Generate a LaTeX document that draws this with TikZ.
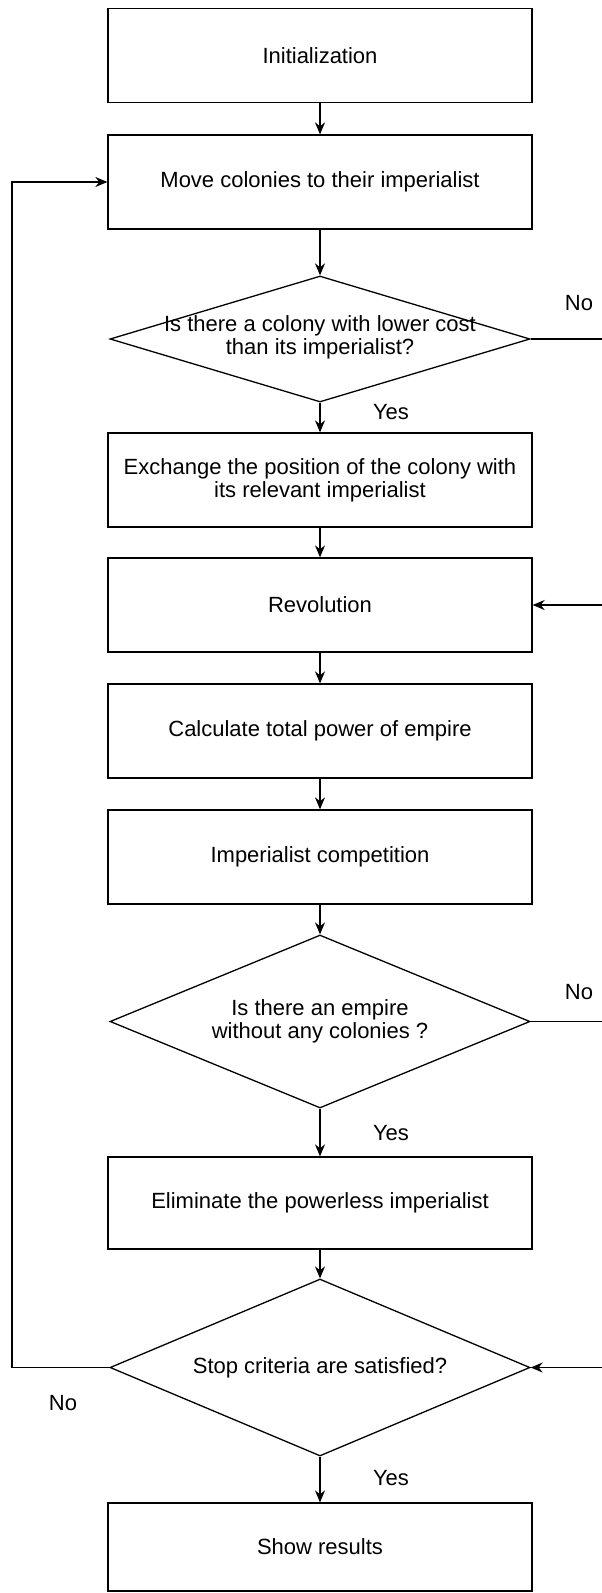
\documentclass[tikz,border=0pt]{standalone}
\usepackage{fontspec}
\setmainfont{Liberation Sans}
\usetikzlibrary{arrows.meta,positioning,shapes.geometric}

\begin{document}
\begin{tikzpicture}[
    x=1pt, y=1pt,
    box/.style={rectangle, draw=black, line width=1.3pt, minimum width=424pt, minimum height=94pt, font=\fontsize{22}{23}\selectfont, align=center},
    decision/.style={diamond, draw=black, line width=1.3pt, minimum width=420pt, inner sep=0pt},
    txt/.style={font=\fontsize{22}{23}\selectfont, align=center},
    arr/.style={-{Stealth[length=12pt,width=10pt]}, line width=1.3pt, black},
    line/.style={-, line width=1.3pt, black}
]
    \useasboundingbox (0,0) rectangle (602,-1593);

    \node[box] (init) at (320,-55.5) {Initialization};
    \node[box] (move) at (320,-182) {Move colonies to their imperialist};
    \node[decision, minimum height=126pt] (dec1) at (320,-339) {};
    \node[txt] (dec1text) at (320,-337) {Is there a colony with lower cost\\than its imperialist?};
    \node[box] (exch) at (320,-480) {Exchange the position of the colony with\\its relevant imperialist};
    \node[box] (rev) at (320,-605) {Revolution};
    \node[box] (calc) at (320,-731) {Calculate total power of empire};
    \node[box] (comp) at (320,-857) {Imperialist competition};
    \node[decision, minimum height=173pt] (dec2) at (320,-1021.5) {};
    \node[txt] (dec2text) at (320,-1021.5) {Is there an empire\\without any colonies ?};
    \node[box, minimum height=92pt] (elim) at (320,-1203) {Eliminate the powerless imperialist};
    \node[decision, minimum height=177pt] (dec3) at (320,-1367.5) {};
    \node[txt] (dec3text) at (320,-1367.5) {Stop criteria are satisfied?};
    \node[box, minimum height=88pt] (show) at (320,-1547) {Show results};

    % labels
    \node[txt] (no1) at (579,-303) {No};
    \node[txt] (yes1) at (391,-412) {Yes};
    \node[txt] (no2) at (579,-992) {No};
    \node[txt] (yes2) at (391,-1133) {Yes};
    \node[txt] (no3) at (63,-1403) {No};
    \node[txt] (yes3) at (391,-1478) {Yes};

    % loose ends at the page border
    \coordinate (out1) at (602,-339);
    \coordinate (in1) at (602,-605);
    \coordinate (out2) at (602,-1021.5);
    \coordinate (in2) at (602,-1367.5);
    \coordinate (back) at (12,-1367.5);

    \draw[arr] (init) -- (move);
    \draw[arr] (move) -- (dec1);
    \draw[arr] (dec1) -- (exch);
    \draw[line] (dec1.east) -- (out1);
    \draw[arr] (exch) -- (rev);
    \draw[arr] (in1) -- (rev.east);
    \draw[arr] (rev) -- (calc);
    \draw[arr] (calc) -- (comp);
    \draw[arr] (comp) -- (dec2);
    \draw[line] (dec2.east) -- (out2);
    \draw[arr] (dec2) -- (elim);
    \draw[arr] (elim) -- (dec3);
    \draw[arr] (in2) -- (dec3.east);
    \draw[arr] (dec3.west) -- (back) |- (move.west);
    \draw[arr] (dec3) -- (show);
\end{tikzpicture}
\end{document}
